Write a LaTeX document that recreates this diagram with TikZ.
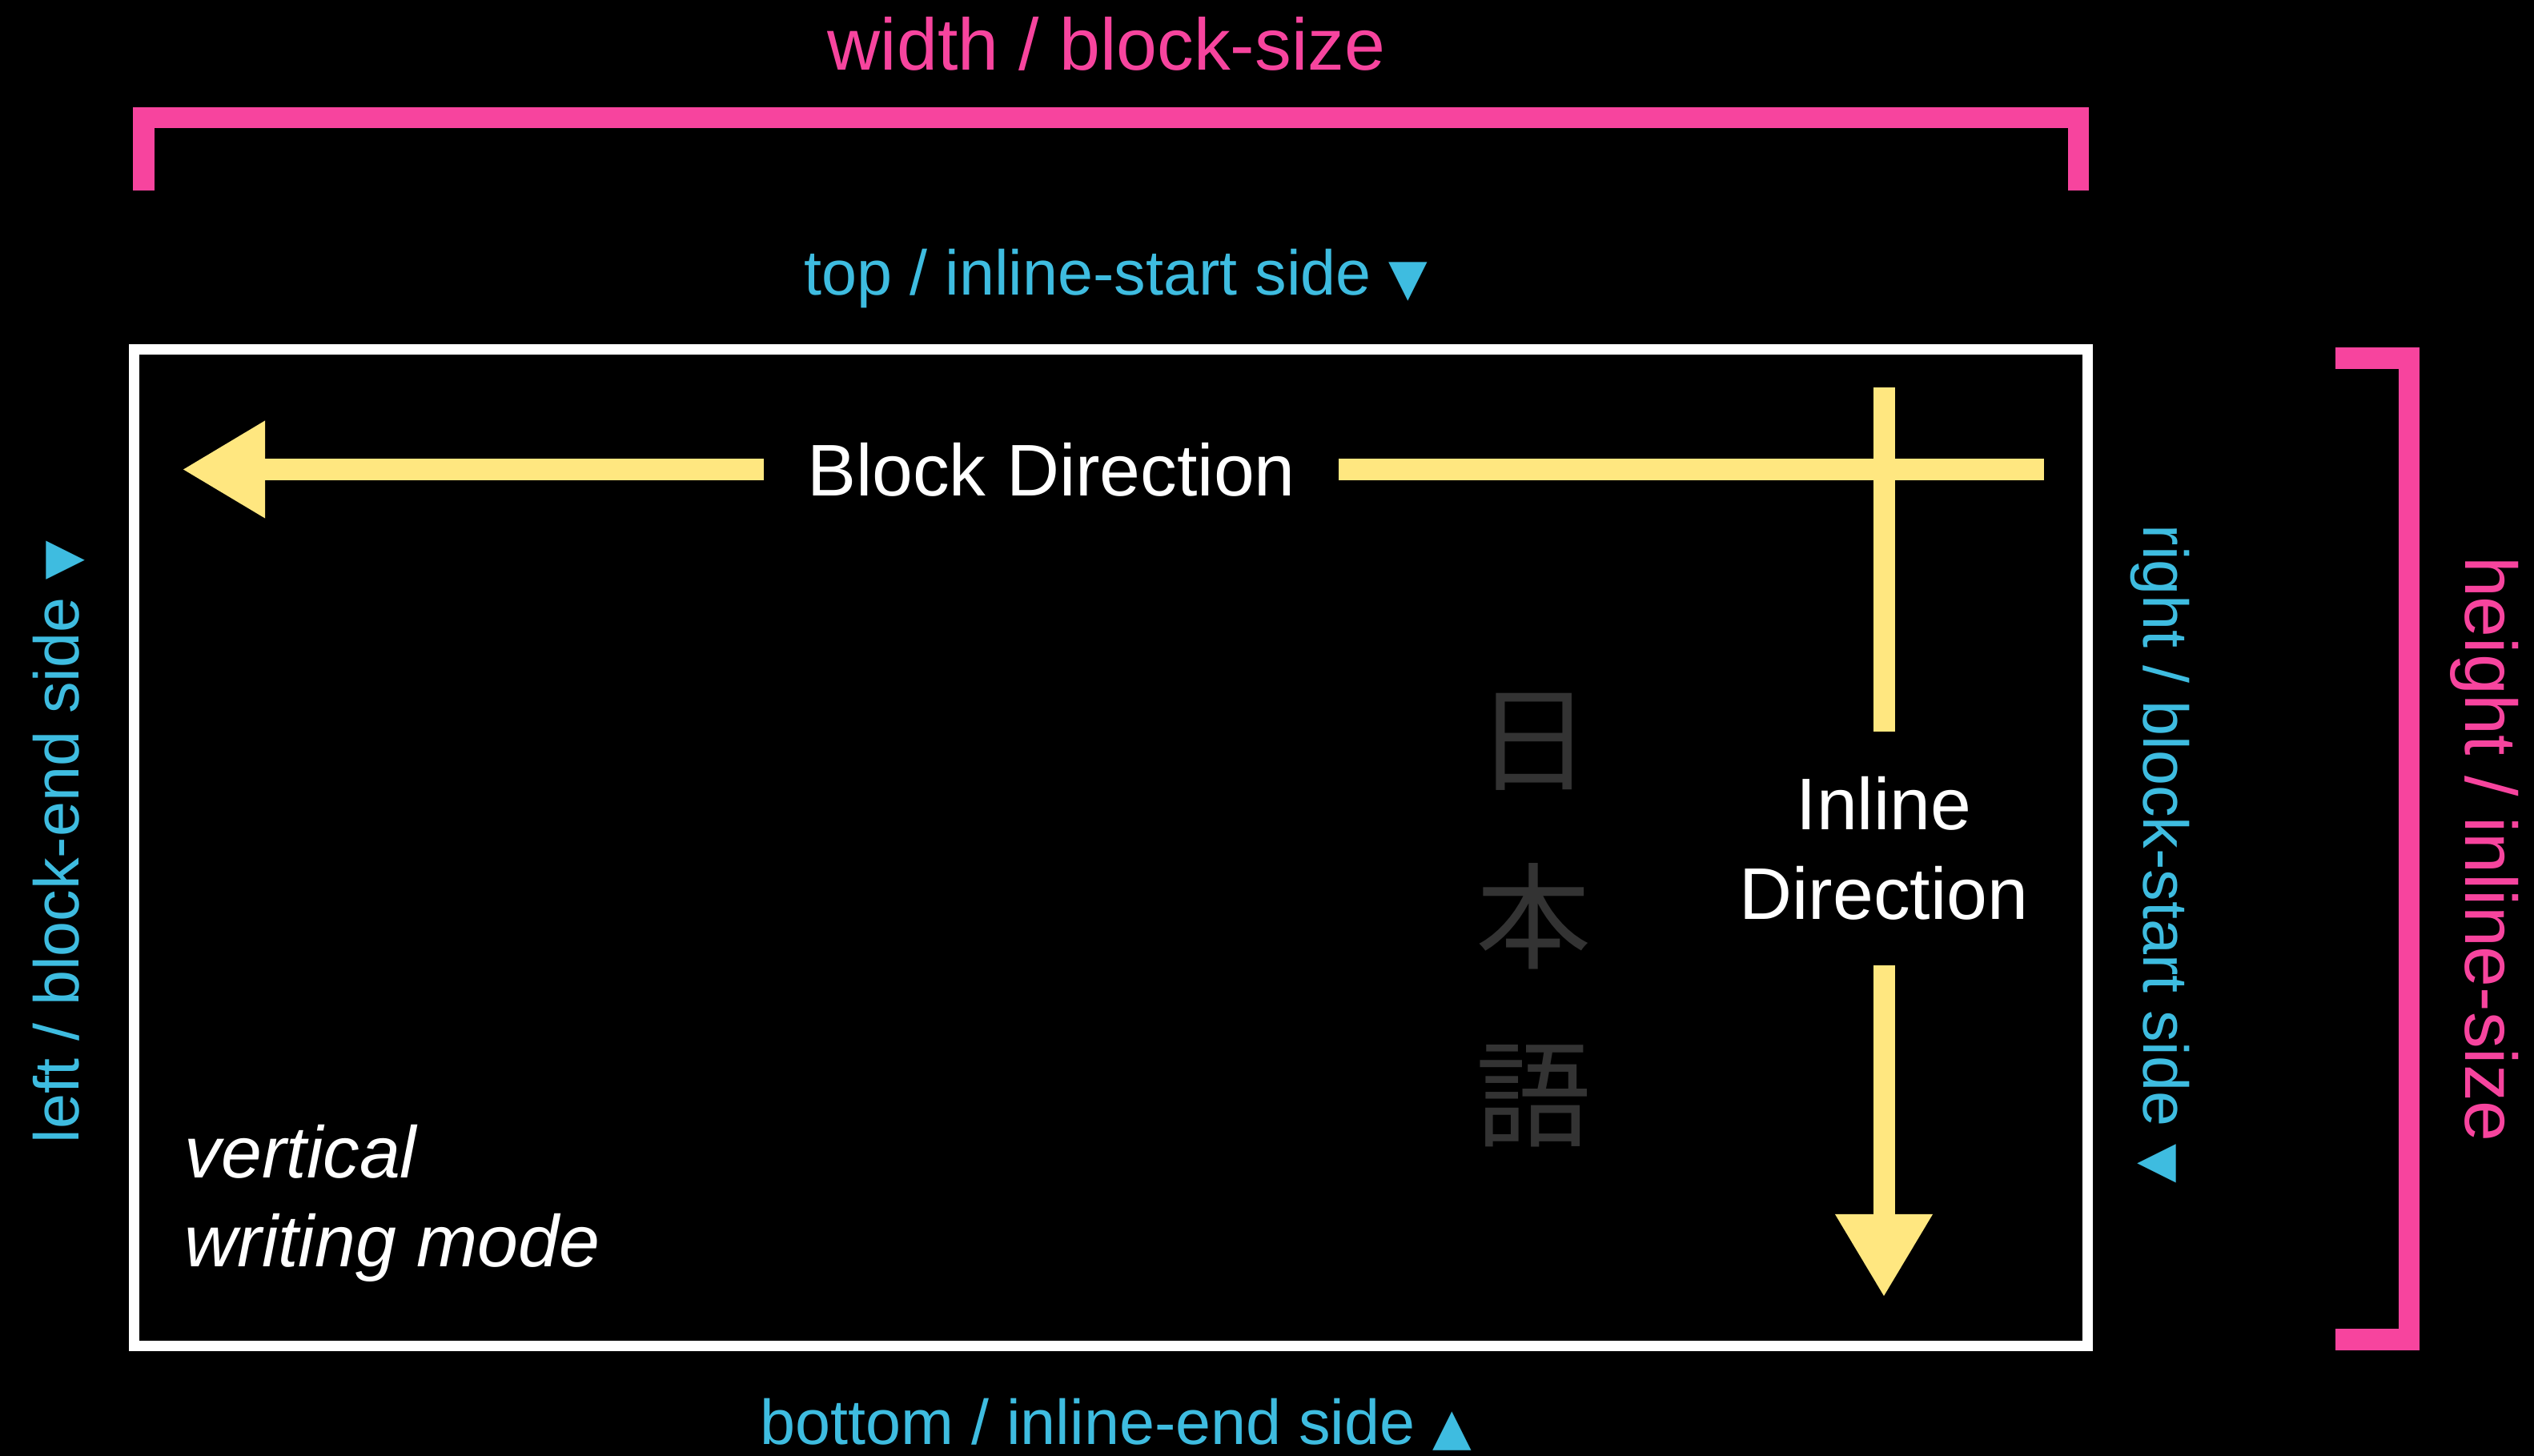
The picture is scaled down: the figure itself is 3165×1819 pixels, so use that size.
\documentclass[tikz,border=0pt]{standalone}
\usepackage{fontspec}
\setmainfont{Liberation Sans}
\newfontfamily\jpfont{Noto Sans CJK JP}
\newfontfamily\trifont{DejaVu Sans}
\usetikzlibrary{arrows.meta,positioning}
\definecolor{SizeClr}{rgb}{0.969,0.267,0.620}
\definecolor{SideClr}{rgb}{0.243,0.737,0.878}
\definecolor{ArrowClr}{rgb}{1,0.906,0.502}
\definecolor{GlyphClr}{rgb}{0.2,0.2,0.2}
\newcommand{\downtri}{{\trifont\fontsize{18}{18}\selectfont ▼}}
\newcommand{\uptri}{{\trifont\fontsize{18}{18}\selectfont ▲}}

\begin{document}
\begin{tikzpicture}[x=0.01cm,y=-0.01cm,
  sizebracket/.style={line width=0.26cm,color=SizeClr,line join=miter},
  sizelabel/.style={text=SizeClr,font=\fontsize{26}{31}\selectfont,inner sep=0pt,anchor=base},
  sidelabel/.style={text=SideClr,font=\fontsize{22.5}{27}\selectfont,inner sep=0pt,anchor=base},
  dirline/.style={line width=0.27cm,color=ArrowClr},
  dirarrow/.style={dirline,-{Triangle[length=1.02cm,width=1.22cm,line width=0pt]}},
  dirlabel/.style={text=white,font=\fontsize{26}{32}\selectfont,inner sep=0pt,align=center},
  jpchar/.style={text=GlyphClr,font=\jpfont\fontsize{41}{41}\selectfont,inner sep=0pt}]

\useasboundingbox (0,0) rectangle (3165,1819);
\fill[black] (0,0) rectangle (3165,1819);

% the box
\draw[white,line width=0.13cm] (167.5,436.5) rectangle (2607.5,1681.5);

% sizes
\draw[sizebracket] (179.5,238) -- (179.5,147) -- (2596,147) -- (2596,238);
\draw[sizebracket] (2917,447.5) -- (3008.5,447.5) -- (3008.5,1673.5) -- (2917,1673.5);
\node[sizelabel] (wsize) at (1382,88) {width / block-size};
\node[sizelabel,rotate=-90] (hsize) at (3079,1061) {height / inline-size};

% sides
\node[sidelabel] (topside) at (1394,369) {top / inline-start side \downtri};
\node[sidelabel] (bottomside) at (1394,1804) {bottom / inline-end side \uptri};
\node[sidelabel,rotate=90] (leftside) at (98,1052) {left / block-end side \downtri};
\node[sidelabel,rotate=-90] (rightside) at (2677,1067) {right / block-start side \downtri};

% directions
\coordinate (blockstart) at (2553,586.5);
\coordinate (blockend) at (229,586.5);
\coordinate (inlinestart) at (2353,484);
\coordinate (inlineend) at (2353,1619);
\node[dirlabel,minimum width=7.16cm] (blockdir) at (1313,586.5) {Block Direction};
\node[dirlabel,minimum height=2.9cm] (inlinedir) at (2353,1060) {Inline\\Direction};
\draw[dirline] (blockstart) -- (blockdir.east);
\draw[dirarrow] (blockdir.west) -- (blockend);
\draw[dirline] (inlinestart) -- (inlinedir.north);
\draw[dirarrow] (inlinedir.south) -- (inlineend);

% sample text
\node[jpchar] (nichi) at (1916,927) {日};
\node[jpchar] (hon) at (1916,1145) {本};
\node[jpchar] (go) at (1916,1369) {語};

\node[dirlabel,align=left,anchor=north west,font=\itshape\fontsize{26}{31.5}\selectfont] (mode) at (230,1405) {vertical\\writing mode};

\end{tikzpicture}
\end{document}
